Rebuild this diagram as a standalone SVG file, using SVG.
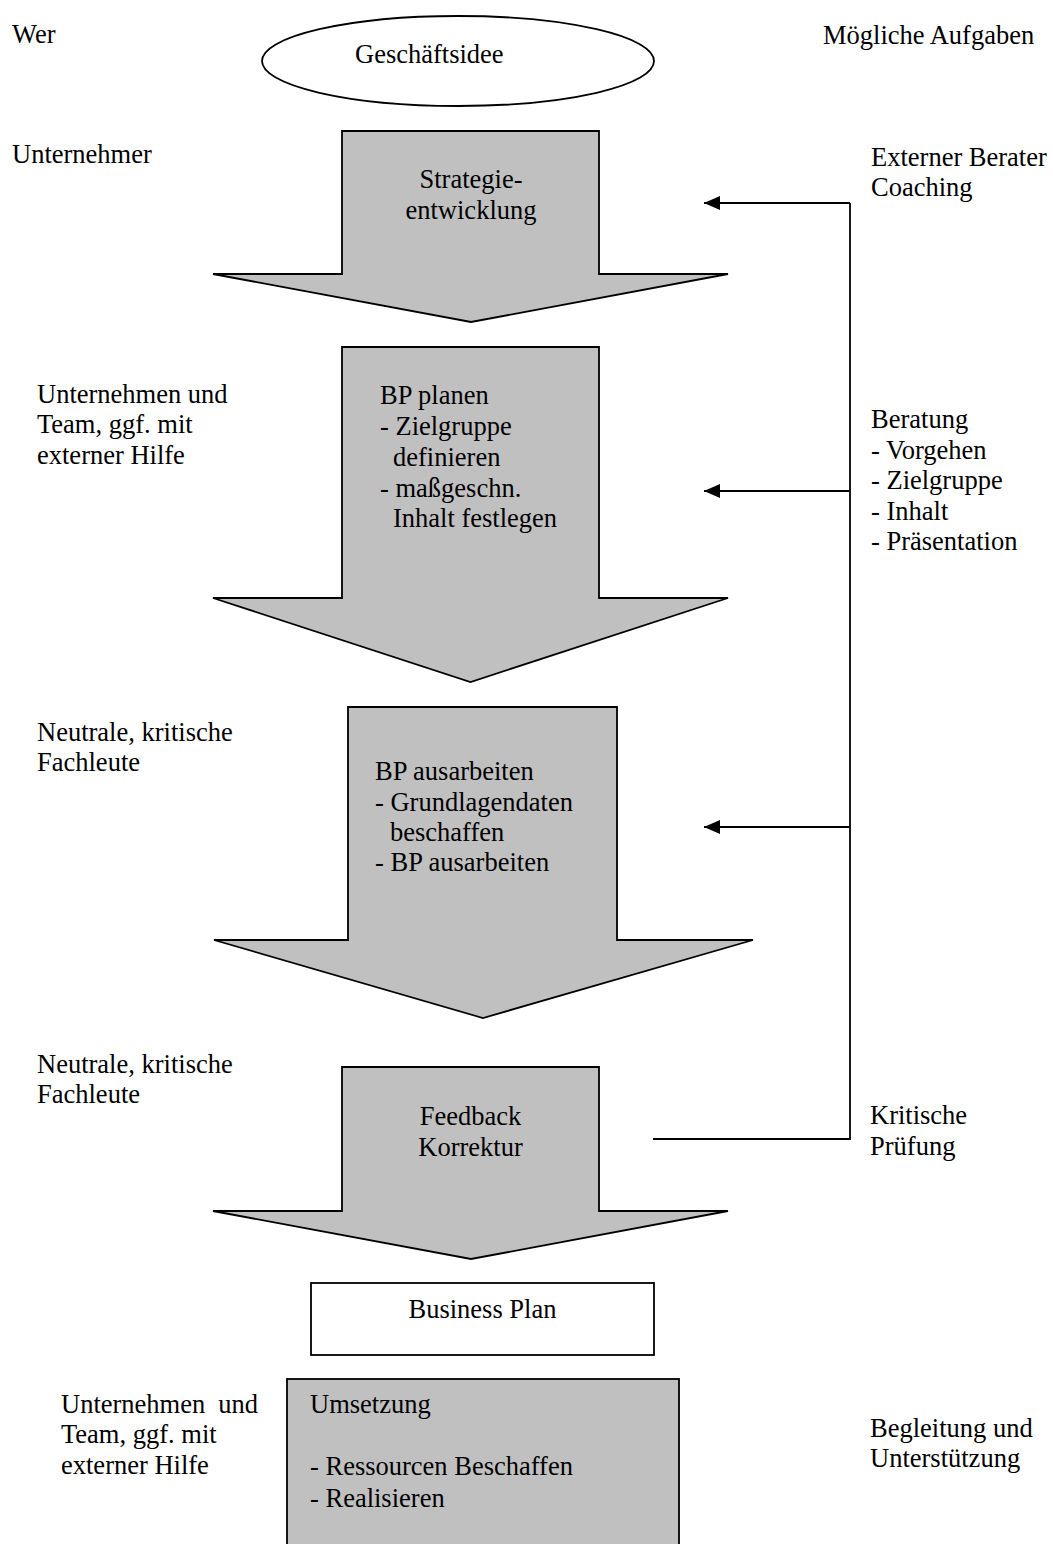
<svg xmlns="http://www.w3.org/2000/svg" width="1053" height="1544" viewBox="0 0 1053 1544">
<style>
  text { font-family: "Liberation Serif", "Times New Roman", serif; font-size: 26.5px; fill: #000; }
  .mid { text-anchor: middle; }
  .shape { fill: #c0c0c0; stroke: #000; stroke-width: 1.8; stroke-linejoin: miter; }
  .box { fill: #fff; stroke: #000; stroke-width: 1.8; }
  .conn { fill: none; stroke: #000; stroke-width: 1.8; }
</style>
<defs>
  <marker id="ah" viewBox="0 0 16 14" refX="16" refY="7" markerWidth="16" markerHeight="14" markerUnits="userSpaceOnUse" orient="auto" preserveAspectRatio="none">
    <path d="M0,0 L16,7 L0,14 z" fill="#000"/>
  </marker>
</defs>
<rect width="1053" height="1544" fill="#fff"/>

<g id="column-labels">
  <text x="12" y="43">Wer</text>
  <text x="823" y="44">Mögliche Aufgaben</text>
</g>

<g id="who-labels">
  <text x="12" y="163">Unternehmer</text>
  <text x="37" y="403">Unternehmen und</text>
  <text x="37" y="433">Team, ggf. mit</text>
  <text x="37" y="464">externer Hilfe</text>
  <text x="37" y="741">Neutrale, kritische</text>
  <text x="37" y="771">Fachleute</text>
  <text x="37" y="1073">Neutrale, kritische</text>
  <text x="37" y="1103">Fachleute</text>
  <text y="1413"><tspan x="61">Unternehmen</tspan><tspan x="258" text-anchor="end">und</tspan></text>
  <text x="61" y="1443">Team, ggf. mit</text>
  <text x="61" y="1474">externer Hilfe</text>
</g>

<g id="task-labels">
  <text x="871" y="166">Externer Berater</text>
  <text x="871" y="196">Coaching</text>
  <text x="871" y="428">Beratung</text>
  <text x="871" y="459">- Vorgehen</text>
  <text x="871" y="489">- Zielgruppe</text>
  <text x="871" y="520">- Inhalt</text>
  <text x="871" y="550">- Präsentation</text>
  <text x="870" y="1124">Kritische</text>
  <text x="870" y="1155">Prüfung</text>
  <text x="870" y="1437">Begleitung und</text>
  <text x="870" y="1467">Unterstützung</text>
</g>

<g id="geschaeftsidee">
  <ellipse cx="458" cy="61" rx="196" ry="45" class="box"/>
  <text x="355" y="63">Geschäftsidee</text>
</g>

<g id="strategieentwicklung">
  <path class="shape" d="M342,131 L599,131 L599,274 L728,274 L471,322 L213,274 L342,274 Z"/>
  <text class="mid" x="471" y="188">Strategie-</text>
  <text class="mid" x="471" y="219">entwicklung</text>
</g>

<g id="bp-planen">
  <path class="shape" d="M342,347 L599,347 L599,598 L728,598 L470.5,682 L213,598 L342,598 Z"/>
  <text x="380" y="404">BP planen</text>
  <text x="380" y="435">- Zielgruppe</text>
  <text x="393" y="466">definieren</text>
  <text x="380" y="497">- maßgeschn.</text>
  <text x="393" y="527">Inhalt festlegen</text>
</g>

<g id="bp-ausarbeiten">
  <path class="shape" d="M348,707 L617,707 L617,940 L753,940 L483,1018 L214,940 L348,940 Z"/>
  <text x="375" y="780">BP ausarbeiten</text>
  <text x="375" y="811">- Grundlagendaten</text>
  <text x="390" y="841">beschaffen</text>
  <text x="375" y="871">- BP ausarbeiten</text>
</g>

<g id="feedback">
  <path class="shape" d="M342,1067 L599,1067 L599,1211 L728,1211 L471,1259 L213,1211 L342,1211 Z"/>
  <text class="mid" x="470.5" y="1125">Feedback</text>
  <text class="mid" x="470.5" y="1156">Korrektur</text>
</g>

<g id="business-plan">
  <rect class="box" x="311" y="1283" width="343" height="72"/>
  <text class="mid" x="482.5" y="1318">Business Plan</text>
</g>

<g id="umsetzung">
  <rect class="shape" x="287" y="1379" width="392" height="180"/>
  <text x="310" y="1413">Umsetzung</text>
  <text x="310" y="1475">- Ressourcen Beschaffen</text>
  <text x="310" y="1507">- Realisieren</text>
</g>

<g id="connectors">
  <polyline class="conn" points="653,1139 850,1139 850,203"/>
  <line class="conn" x1="850" y1="203" x2="704" y2="203" marker-end="url(#ah)"/>
  <line class="conn" x1="850" y1="491" x2="704" y2="491" marker-end="url(#ah)"/>
  <line class="conn" x1="850" y1="827" x2="704" y2="827" marker-end="url(#ah)"/>
</g>
</svg>
